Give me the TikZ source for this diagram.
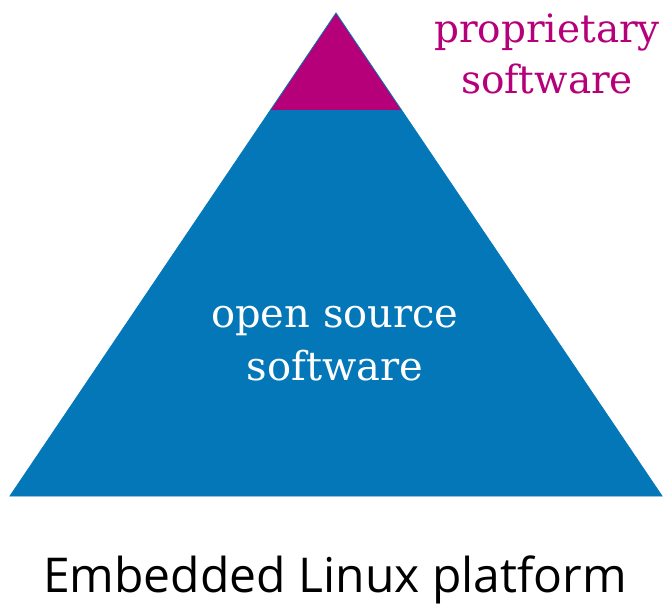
\documentclass[tikz,border=0pt]{standalone}
\usepackage{fontspec}
\setmainfont{Open Sans}
\newfontfamily\slabfont{DejaVu Serif}
\definecolor{osblue}{HTML}{0477B8}
\definecolor{propmag}{HTML}{B5007A}
\begin{document}
\begin{tikzpicture}[x=1pt,y=-1pt,
  lbl/.style={inner sep=0pt, align=center, anchor=base},
  layer/.style={draw=osblue, line width=0.8pt, line join=miter}]
\useasboundingbox (0,0) rectangle (670,604);
\coordinate (apex) at (336,13);
\coordinate (bl) at (10,496);
\coordinate (br) at (662,496);
\coordinate (ml) at (270.5,110);
\coordinate (mr) at (401.5,110);
\fill[osblue, layer] (bl) -- (br) -- (mr) -- (ml) -- cycle;
\fill[propmag] (ml) -- (apex) -- (mr) -- cycle;
\draw[osblue, line width=0.8pt] (ml) -- (apex) -- (mr);
\node[lbl, text=propmag, font=\slabfont\fontsize{39}{51}\selectfont] (prop) at (547,94) {proprietary\\software};
\node[lbl, text=white, font=\slabfont\fontsize{40}{54}\selectfont] (oss) at (335,381) {open source\\software};
\node[lbl, text=black, font=\fontsize{48}{58}\selectfont] (plat) at (335,592) {Embedded Linux platform};
\end{tikzpicture}
\end{document}
